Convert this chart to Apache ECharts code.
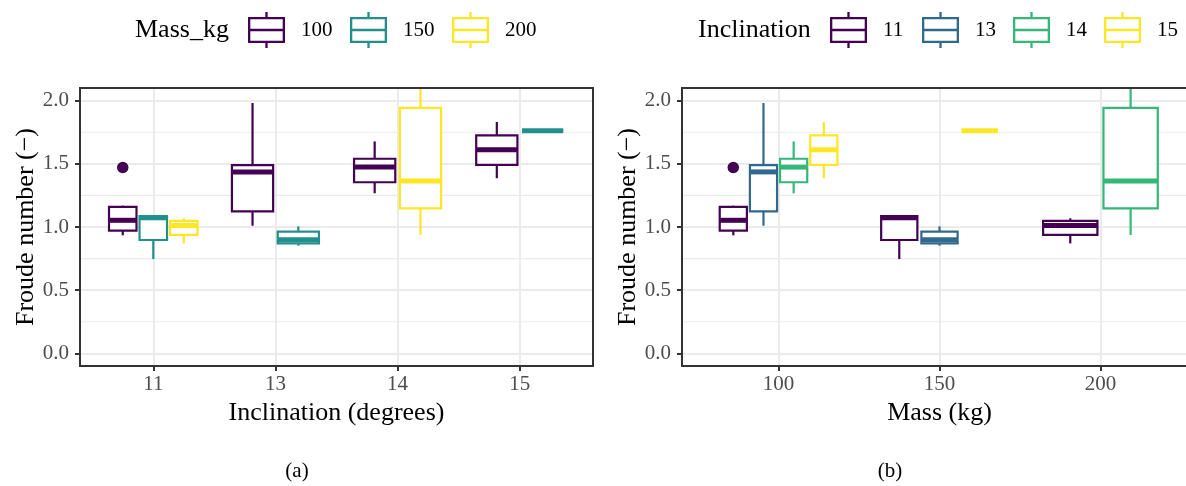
<!DOCTYPE html>
<html>
<head>
<meta charset="utf-8">
<script src="https://cdn.jsdelivr.net/npm/echarts@6/dist/echarts.min.js"></script>
<style>
html,body{margin:0;padding:0;background:#fff;overflow:hidden;}
#chart{width:1186px;height:486px;}
</style>
</head>
<body>
<div id="chart"></div>
<script>
// ---------------- data ----------------
const massLevels = ['100', '150', '200'];
const inclLevels = ['11', '13', '14', '15'];
const massColors = ['#440154', '#21908C', '#FDE725'];
const inclColors = ['#440154', '#31688E', '#35B779', '#FDE725'];

// box statistics, one entry per (mass, inclination) combination
const boxMass   = ['100', '100', '100', '100', '150', '150', '150', '200', '200'];
const boxIncl   = ['11',  '13',  '14',  '15',  '11',  '13',  '15',  '11',  '14'];
const boxLow    = [0.934, 1.010, 1.267, 1.386, 0.746, 0.852, 1.762, 0.870, 0.937];
const boxQ1     = [0.971, 1.124, 1.354, 1.492, 0.897, 0.870, 1.762, 0.937, 1.148];
const boxMedian = [1.053, 1.436, 1.474, 1.611, 1.073, 0.900, 1.762, 1.012, 1.365];
const boxQ3     = [1.159, 1.489, 1.540, 1.725, 1.087, 0.963, 1.762, 1.049, 1.942];
const boxHigh   = [1.169, 1.981, 1.677, 1.831, 1.095, 1.005, 1.762, 1.069, 2.200];

const outlierMass  = ['100'];
const outlierIncl  = ['11'];
const outlierValue = [1.471];

const yBreaks = [0, 0.5, 1, 1.5, 2];
const yMinorBreaks = [0.25, 0.75, 1.25, 1.75];

// ---------------- layout helpers ----------------
const FONT = '"Liberation Serif", "Times New Roman", serif';
const LW = 2.2, MW = 5;
const DODGE = 0.75;

function dodgeInfo(catKey, groupKey, catArr, groupArr, groupLevels, catLevels) {
  const present = groupLevels.filter(g => {
    for (let i = 0; i < catArr.length; i++) if (catArr[i] === catKey && groupArr[i] === g) return true;
    return false;
  });
  const n = present.length;
  const j = present.indexOf(groupKey);
  const ci = catLevels.indexOf(catKey);
  return { x: ci - DODGE / 2 + (j + 0.5) * DODGE / n, hw: DODGE / n * 0.9 / 2 };
}

function renderBox(params, api) {
  const cs = params.coordSys;
  const clampY = y => Math.max(cs.y, Math.min(cs.y + cs.height, y));
  const x = api.value(0), lo = api.value(1), q1 = api.value(2), md = api.value(3), q3 = api.value(4), hi = api.value(5), hw = api.value(6);
  const xc = api.coord([x, md])[0];
  const xl = api.coord([x - hw, md])[0];
  const xr = api.coord([x + hw, md])[0];
  const yLo = clampY(api.coord([x, lo])[1]);
  const yQ1 = clampY(api.coord([x, q1])[1]);
  const yMd = clampY(api.coord([x, md])[1]);
  const yQ3 = clampY(api.coord([x, q3])[1]);
  const yHi = clampY(api.coord([x, hi])[1]);
  const color = api.visual('color');
  return {
    type: 'group',
    children: [
      { type: 'line', shape: { x1: xc, y1: yQ3, x2: xc, y2: yHi }, style: { stroke: color, lineWidth: LW } },
      { type: 'line', shape: { x1: xc, y1: yQ1, x2: xc, y2: yLo }, style: { stroke: color, lineWidth: LW } },
      { type: 'rect', shape: { x: xl, y: yQ3, width: xr - xl, height: yQ1 - yQ3 }, style: { fill: '#ffffff', stroke: color, lineWidth: LW } },
      { type: 'line', shape: { x1: xl, y1: yMd, x2: xr, y2: yMd }, style: { stroke: color, lineWidth: MW } }
    ]
  };
}

function renderMinor(params, api) {
  const cs = params.coordSys;
  const y = api.coord([0, api.value(1)])[1];
  return { type: 'line', shape: { x1: cs.x, y1: y, x2: cs.x + cs.width, y2: y }, style: { stroke: '#EBEBEB', lineWidth: 1.1 } };
}

function buildPanel(panelIdx, catLevels, catArr, groupLevels, groupArr, groupColors, outCat, outGroup) {
  const series = [];
  series.push({
    type: 'custom', name: 'minor' + panelIdx, xAxisIndex: panelIdx, yAxisIndex: panelIdx, z: 1, silent: true,
    renderItem: renderMinor, data: yMinorBreaks.map(v => [0, v]), encode: { x: 0, y: 1 }
  });
  groupLevels.forEach((g, gi) => {
    const data = [];
    for (let i = 0; i < groupArr.length; i++) {
      if (groupArr[i] !== g) continue;
      const d = dodgeInfo(catArr[i], g, catArr, groupArr, groupLevels, catLevels);
      data.push([d.x, boxLow[i], boxQ1[i], boxMedian[i], boxQ3[i], boxHigh[i], d.hw]);
    }
    series.push({
      type: 'custom', name: g, xAxisIndex: panelIdx, yAxisIndex: panelIdx, z: 2, silent: true,
      itemStyle: { color: groupColors[gi] },
      renderItem: renderBox, data: data, encode: { x: 0, y: 3 }
    });
    const pts = [];
    for (let k = 0; k < outlierValue.length; k++) {
      if (outGroup[k] !== g) continue;
      const d = dodgeInfo(outCat[k], g, catArr, groupArr, groupLevels, catLevels);
      pts.push([d.x, outlierValue[k]]);
    }
    if (pts.length) {
      series.push({
        type: 'scatter', name: 'outlier_' + g, xAxisIndex: panelIdx, yAxisIndex: panelIdx, z: 3, silent: true,
        symbol: 'circle', symbolSize: 11.5, itemStyle: { color: groupColors[gi], opacity: 1 }, data: pts
      });
    }
  });
  return series;
}

const seriesA = buildPanel(0, inclLevels, boxIncl, massLevels, boxMass, massColors, outlierIncl, outlierMass);
const seriesB = buildPanel(1, massLevels, boxMass, inclLevels, boxIncl, inclColors, outlierMass, outlierIncl);

function xAxisDef(idx, levels, title) {
  const vals = levels.map((_, i) => i);
  return {
    type: 'value', gridIndex: idx, min: -0.6, max: levels.length - 1 + 0.6,
    name: title, nameLocation: 'middle', nameGap: 33,
    nameTextStyle: { fontFamily: FONT, fontSize: 26, color: '#000' },
    axisLine: { show: false, onZero: false },
    axisTick: { show: true, customValues: vals, length: 5, lineStyle: { color: '#333333', width: 2 } },
    axisLabel: { show: true, customValues: vals, margin: 8, fontFamily: FONT, fontSize: 21, color: '#4D4D4D',
      formatter: v => levels[Math.round(v)] },
    splitLine: { show: true, lineStyle: { color: '#EBEBEB', width: 2 } }
  };
}
function yAxisDef(idx) {
  return {
    type: 'value', gridIndex: idx, min: -0.1, max: 2.1,
    name: 'Froude number (\u2212)', nameLocation: 'middle', nameGap: 40,
    nameTextStyle: { fontFamily: FONT, fontSize: 26, color: '#000' },
    axisLine: { show: false, onZero: false },
    axisTick: { show: true, customValues: yBreaks, length: 5, lineStyle: { color: '#333333', width: 2 } },
    axisLabel: { show: true, customValues: yBreaks, margin: 11, fontFamily: FONT, fontSize: 21, color: '#4D4D4D',
      formatter: v => Number(v).toFixed(1) },
    splitLine: { show: true, lineStyle: { color: '#EBEBEB', width: 2 } }
  };
}

const legendIcon = 'path://M0 5H37V31H0Z M2.3 7.3V16.85H34.7V7.3Z M2.3 19.15V28.7H34.7V19.15Z M17.35 0H19.65V5H17.35Z M17.35 31H19.65V36H17.35Z';

function legendItem(left, name) {
  return {
    left: left, top: 12, orient: 'horizontal', padding: 0, itemGap: 0,
    itemWidth: 37, itemHeight: 36, icon: legendIcon, selectedMode: false,
    itemStyle: { borderWidth: 0 },
    textStyle: { fontFamily: FONT, fontSize: 21, color: '#000', padding: [0, 0, 0, 11] },
    data: [name]
  };
}
const legendLeftA = [248, 350, 452];
const legendLeftB = [830, 922, 1013, 1104];

const option = {
  animation: false,
  backgroundColor: '#ffffff',
  textStyle: { fontFamily: FONT },
  grid: [
    { left: 80, top: 88, width: 513, height: 278, outerBoundsMode: 'none', containLabel: false, show: true, z: 5, backgroundColor: 'transparent', borderColor: '#333333', borderWidth: 2 },
    { left: 682, top: 88, width: 515, height: 278, outerBoundsMode: 'none', containLabel: false, show: true, z: 5, backgroundColor: 'transparent', borderColor: '#333333', borderWidth: 2 }
  ],
  xAxis: [xAxisDef(0, inclLevels, 'Inclination (degrees)'), xAxisDef(1, massLevels, 'Mass (kg)')],
  yAxis: [yAxisDef(0), yAxisDef(1)],
  legend: massLevels.map((n, i) => legendItem(legendLeftA[i], n))
    .concat(inclLevels.map((n, i) => legendItem(legendLeftB[i], n))),
  graphic: [
    { type: 'text', x: 135, y: 30, style: { text: 'Mass_kg', font: '26px ' + FONT, fill: '#000', textAlign: 'left', textVerticalAlign: 'middle' } },
    { type: 'text', x: 698, y: 30, style: { text: 'Inclination', font: '26px ' + FONT, fill: '#000', textAlign: 'left', textVerticalAlign: 'middle' } },
    { type: 'text', x: 297, y: 471, style: { text: '(a)', font: '21px ' + FONT, fill: '#000', textAlign: 'center', textVerticalAlign: 'middle' } },
    { type: 'text', x: 890, y: 471, style: { text: '(b)', font: '21px ' + FONT, fill: '#000', textAlign: 'center', textVerticalAlign: 'middle' } }
  ],
  series: seriesA.concat(seriesB)
};

const chart = echarts.init(document.getElementById('chart'), null, { renderer: 'canvas' });
chart.setOption(option);
</script>
</body>
</html>
